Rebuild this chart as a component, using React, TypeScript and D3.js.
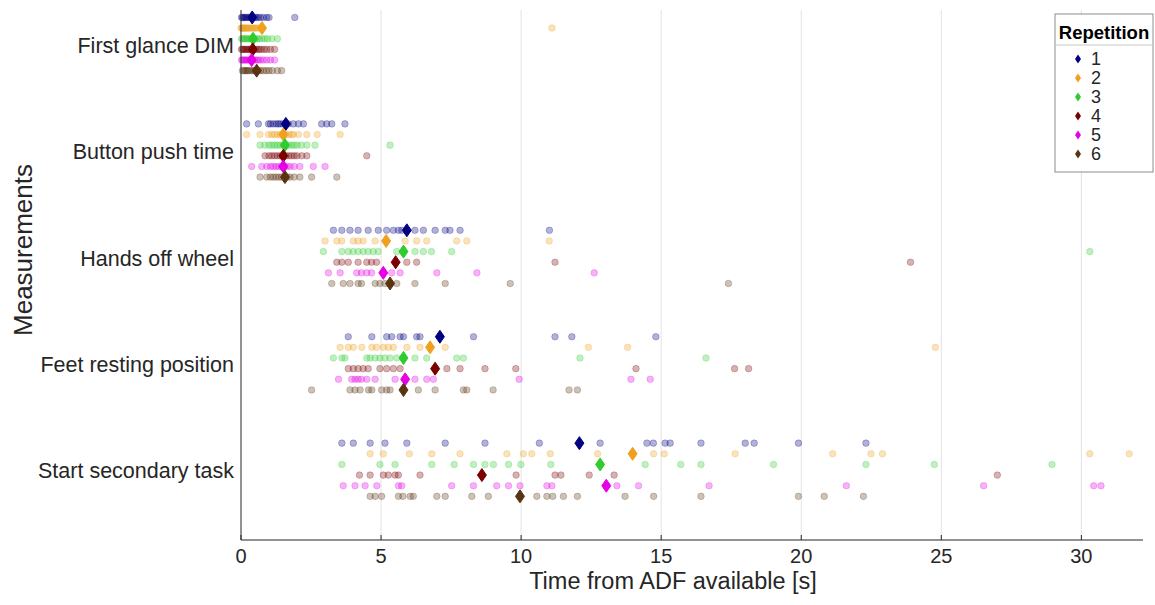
import React from "react";
import * as d3 from "d3";

const categories = [
  "First glance DIM",
  "Button push time",
  "Hands off wheel",
  "Feet resting position",
  "Start secondary task",
];
const repetitions = ["1", "2", "3", "4", "5", "6"];
const repColors = ["#000080", "#f0a01e", "#2ecc2e", "#7a0000", "#e600e6", "#5a3412"];
const xTicks = [0, 5, 10, 15, 20, 25, 30];

// Individual observations per repetition (seconds)
const firstGlance = [
  [0.02, 0.05, 0.1, 0.12, 0.18, 0.22, 0.28, 0.32, 0.38, 0.42, 0.5, 0.55, 0.62, 0.7, 0.8, 0.92, 1.0, 1.92],
  [0.0, 0.03, 0.05, 0.08, 0.1, 0.15, 0.18, 0.22, 0.25, 0.3, 0.35, 0.4, 0.45, 0.5, 0.55, 0.62, 0.7, 11.1],
  [0.02, 0.06, 0.1, 0.15, 0.2, 0.25, 0.3, 0.35, 0.4, 0.45, 0.5, 0.58, 0.65, 0.75, 0.85, 0.95, 1.1, 1.3],
  [0.02, 0.06, 0.1, 0.15, 0.2, 0.25, 0.3, 0.35, 0.4, 0.45, 0.5, 0.58, 0.65, 0.72, 0.82, 0.92, 1.05, 1.2],
  [0.02, 0.05, 0.1, 0.14, 0.18, 0.22, 0.28, 0.32, 0.38, 0.42, 0.48, 0.55, 0.62, 0.7, 0.8, 0.92, 1.05, 1.2],
  [0.05, 0.1, 0.15, 0.2, 0.25, 0.3, 0.38, 0.45, 0.5, 0.55, 0.62, 0.7, 0.8, 0.9, 1.0, 1.12, 1.3, 1.45],
];
const buttonPush = [
  [0.2, 0.62, 0.98, 1.05, 1.15, 1.25, 1.33, 1.4, 1.5, 1.6, 1.69, 1.87, 2.05, 2.23, 2.88, 3.06, 3.24, 3.71],
  [0.2, 0.68, 0.98, 1.1, 1.2, 1.3, 1.4, 1.5, 1.6, 1.7, 1.8, 1.87, 2.05, 2.35, 2.72, 3.54],
  [0.68, 0.85, 1.0, 1.1, 1.2, 1.3, 1.4, 1.5, 1.6, 1.7, 1.8, 1.9, 2.0, 2.15, 2.35, 2.64, 5.32],
  [0.86, 1.0, 1.1, 1.2, 1.3, 1.4, 1.5, 1.6, 1.7, 1.8, 1.9, 2.0, 2.17, 2.35, 4.49],
  [0.38, 0.74, 0.92, 1.05, 1.15, 1.25, 1.35, 1.45, 1.55, 1.65, 1.75, 1.9, 2.1, 2.58, 3.0],
  [0.68, 0.92, 1.05, 1.15, 1.25, 1.35, 1.45, 1.55, 1.65, 1.75, 1.9, 2.1, 2.52, 3.42],
];
const handsOff = [
  [3.3, 3.6, 3.89, 4.18, 4.54, 4.9, 5.2, 5.44, 5.62, 5.74, 6.21, 6.51, 6.93, 7.29, 7.46, 7.82, 11.01],
  [3.0, 3.42, 3.6, 4.01, 4.18, 4.36, 4.79, 5.86, 6.27, 6.63, 7.7, 8.06, 11.0],
  [2.94, 3.6, 3.83, 4.0, 4.18, 4.36, 4.54, 4.72, 4.9, 5.56, 6.21, 6.51, 6.8, 7.52, 30.3],
  [3.42, 3.6, 3.83, 4.18, 4.49, 4.66, 4.84, 5.92, 6.27, 11.21, 23.9],
  [3.12, 3.54, 4.13, 4.3, 4.49, 4.66, 5.38, 5.68, 6.99, 8.42, 12.61],
  [3.24, 3.65, 3.89, 4.18, 4.3, 4.79, 4.96, 5.14, 5.56, 6.21, 7.29, 9.61, 17.4],
];
const feetResting = [
  [3.83, 4.67, 5.2, 5.38, 5.68, 5.8, 6.27, 6.39, 8.3, 11.21, 11.81, 14.81],
  [3.54, 3.83, 4.01, 4.31, 4.67, 4.84, 5.08, 5.26, 5.44, 5.92, 6.39, 7.29, 12.4, 13.8, 24.79],
  [3.3, 3.6, 3.71, 4.49, 4.61, 4.79, 4.96, 5.14, 5.32, 5.56, 6.21, 6.63, 7.7, 7.94, 12.1, 16.6],
  [3.83, 4.01, 4.18, 4.36, 4.54, 4.96, 5.2, 5.44, 5.68, 7.35, 7.82, 8.71, 9.81, 14.1, 17.62, 18.12],
  [3.48, 3.95, 4.07, 4.18, 4.3, 4.49, 4.79, 5.5, 6.21, 6.63, 6.87, 9.93, 13.92, 14.61],
  [2.52, 3.89, 4.07, 4.25, 4.55, 4.67, 5.02, 5.2, 5.32, 6.33, 6.93, 7.94, 8.06, 9.0, 11.71, 12.01],
];
const startSecondary = [
  [3.6, 4.01, 4.61, 5.14, 5.92, 7.29, 8.71, 10.65, 12.82, 14.49, 14.72, 15.14, 15.32, 16.42, 18.0, 18.32, 19.9, 22.31],
  [4.61, 5.08, 6.01, 6.81, 7.82, 9.49, 10.08, 10.38, 11.04, 12.73, 14.73, 15.11, 17.64, 21.12, 22.49, 22.9, 30.3, 31.71],
  [3.6, 4.96, 5.5, 6.81, 7.61, 8.3, 8.71, 9.01, 9.55, 9.99, 11.06, 14.43, 15.7, 16.42, 19.01, 22.31, 24.75, 28.95],
  [4.23, 4.61, 5.08, 5.26, 5.5, 5.62, 6.39, 9.82, 11.21, 11.42, 12.43, 13.32, 27.0],
  [3.65, 4.07, 4.43, 4.85, 5.62, 5.74, 7.52, 8.3, 9.13, 9.55, 9.96, 10.92, 11.1, 13.42, 14.19, 16.71, 21.61, 26.51, 30.44, 30.7],
  [4.61, 4.79, 5.02, 5.62, 5.78, 6.04, 6.15, 6.99, 7.29, 8.24, 8.83, 10.56, 10.92, 11.13, 11.51, 12.01, 13.71, 14.73, 16.42, 19.9, 20.82, 22.22],
];

// Mean marker per repetition (diamonds)
const meanFirstGlance = [0.4, 0.75, 0.43, 0.42, 0.38, 0.56];
const meanButtonPush = [1.6, 1.51, 1.57, 1.51, 1.51, 1.57];
const meanHandsOff = [5.92, 5.18, 5.8, 5.52, 5.08, 5.32];
const meanFeetResting = [7.1, 6.75, 5.8, 6.93, 5.86, 5.8];
const meanStartSecondary = [12.08, 13.98, 12.82, 8.6, 13.04, 9.96];

const observations = [firstGlance, buttonPush, handsOff, feetResting, startSecondary];
const means = [meanFirstGlance, meanButtonPush, meanHandsOff, meanFeetResting, meanStartSecondary];

const W = 1155;
const H = 605;
const left = 241;
const right = 1143;
const top = 10;
const bottom = 540;
const font = "'Liberation Sans', Arial, sans-serif";

export default function App() {
  const x = d3.scaleLinear().domain([0, 32.2]).range([left, right]);
  const y = d3.scaleLinear().domain([-0.32, 4.66]).range([top, bottom]);
  const rowOffset = (r: number) => (r - 2.5) * 0.1;
  const diamond = (cx: number, cy: number, hw: number, hh: number) =>
    `M${cx},${cy - hh}L${cx + hw},${cy}L${cx},${cy + hh}L${cx - hw},${cy}Z`;

  return (
    <svg
      width={W}
      height={H}
      style={{ position: "absolute", left: 0, top: 0, background: "#fff" }}
      fontFamily={font}
    >
      <rect x={0} y={0} width={W} height={H} fill="#fff" />
      {/* grid */}
      {xTicks.filter((t) => t > 0).map((t) => (
        <line key={"g" + t} x1={x(t)} x2={x(t)} y1={top} y2={bottom} stroke="#e3e3e3" strokeWidth={1} />
      ))}
      {/* dots */}
      {observations.map((cat, ci) =>
        cat.map((vals, ri) =>
          vals.map((v, k) => (
            <circle
              key={`d${ci}-${ri}-${k}`}
              cx={x(v)}
              cy={y(ci + rowOffset(ri))}
              r={3.3}
              fill={repColors[ri]}
              fillOpacity={0.3}
              stroke={repColors[ri]}
              strokeOpacity={0.3}
              strokeWidth={0.8}
            />
          ))
        )
      )}
      {/* mean diamonds */}
      {means.map((cat, ci) =>
        cat.map((v, ri) => (
          <path
            key={`m${ci}-${ri}`}
            d={diamond(x(v), y(ci + rowOffset(ri)), 4.5, 6.5)}
            fill={repColors[ri]}
            stroke={repColors[ri]}
          />
        ))
      )}
      {/* axes */}
      <line x1={left} x2={left} y1={top} y2={bottom} stroke="#262626" strokeWidth={1} />
      <line x1={left} x2={right} y1={bottom} y2={bottom} stroke="#262626" strokeWidth={1} />
      {xTicks.map((t) => (
        <g key={"t" + t}>
          <line x1={x(t)} x2={x(t)} y1={bottom} y2={bottom - 5} stroke="#262626" />
          <text x={x(t)} y={563} textAnchor="middle" fontSize={20} fill="#262626">
            {t}
          </text>
        </g>
      ))}
      {categories.map((c, i) => (
        <text
          key={c}
          x={234}
          y={y(i) + 3}
          textAnchor="end"
          dominantBaseline="middle"
          fontSize={21.5}
          fill="#262626"
        >
          {c}
        </text>
      ))}
      <text x={673} y={589} textAnchor="middle" fontSize={23.5} fill="#262626">
        Time from ADF available [s]
      </text>
      <text
        transform={`translate(32,250) rotate(-90)`}
        textAnchor="middle"
        fontSize={26}
        fill="#262626"
      >
        Measurements
      </text>
      {/* legend */}
      <g>
        <rect x={1055} y={14} width={98} height={158} fill="#fff" stroke="#8c8c8c" strokeWidth={1} />
        <text x={1104} y={39} textAnchor="middle" fontSize={18.5} fontWeight="bold" fill="#000">
          Repetition
        </text>
        <line x1={1055} x2={1153} y1={45} y2={45} stroke="#c8c8c8" />
        {repetitions.map((r, i) => (
          <g key={"l" + r}>
            <path d={diamond(1078, 59 + i * 19, 3, 4.5)} fill={repColors[i]} />
            <text x={1091} y={60 + i * 19} dominantBaseline="middle" fontSize={18} fill="#262626">
              {r}
            </text>
          </g>
        ))}
      </g>
    </svg>
  );
}
